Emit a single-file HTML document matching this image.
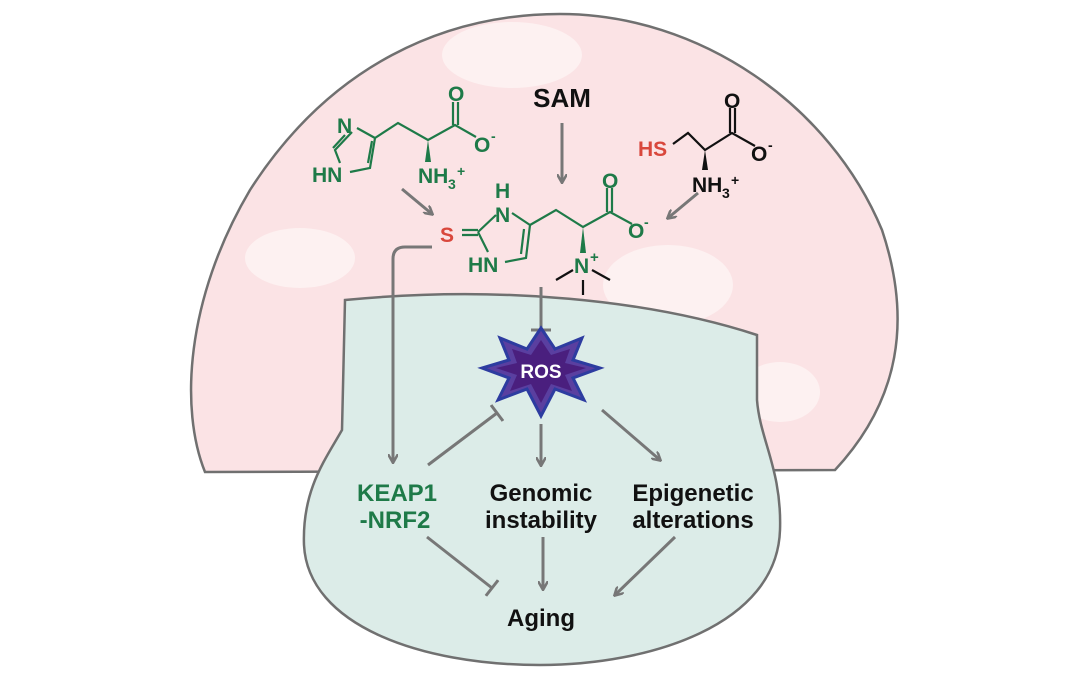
<!DOCTYPE html>
<html><head><meta charset="utf-8"><style>
body{margin:0;background:#fff}
svg{display:block}
text{font-family:"Liberation Sans",Arial,sans-serif;font-weight:bold}
</style></head><body>
<svg width="1076" height="695" viewBox="0 0 1076 695" xmlns="http://www.w3.org/2000/svg">
<defs>
<marker id="ar" markerWidth="10" markerHeight="10" refX="8" refY="5" orient="auto" markerUnits="userSpaceOnUse"><path d="M0,0 L9,5 L0,10" fill="none" stroke="#777" stroke-width="2.5"/></marker>
<marker id="tb" markerWidth="4" markerHeight="20" refX="2" refY="10" orient="auto" markerUnits="userSpaceOnUse"><path d="M2,0 L2,20" stroke="#777" stroke-width="3"/></marker>
</defs>
<!-- cap -->
<path d="M205 472 C180 410 185 300 250 190 C330 65 445 14 560 14 C700 14 830 105 882 230 C912 320 900 400 835 470 Z" fill="#fbe3e5" stroke="#707070" stroke-width="2.5"/>
<ellipse cx="512" cy="55" rx="70" ry="33" fill="#fdf1f1"/>
<ellipse cx="300" cy="258" rx="55" ry="30" fill="#fdf1f1"/>
<ellipse cx="668" cy="285" rx="65" ry="40" fill="#fdf1f1"/>
<ellipse cx="780" cy="392" rx="40" ry="30" fill="#fdf1f1"/>
<!-- stem -->
<path d="M345 300 C500 285 650 300 757 335 L757 400 C760 440 782 470 780 530 C777 625 650 665 540 665 C420 665 308 625 304 545 C302 490 325 460 342 430 Z" fill="#dcece8" stroke="#707070" stroke-width="2.5"/>

<!-- SAM -->
<text x="562" y="107" font-size="26" text-anchor="middle" fill="#111">SAM</text>
<line x1="562" y1="123" x2="562" y2="182" stroke="#777" stroke-width="3" marker-end="url(#ar)"/>

<!-- histidine -->
<g stroke="#1e7a48" stroke-width="2.2" fill="none">
<path d="M352 132 L335 150 L340 163"/><path d="M345 135 L333 148"/>
<path d="M350 172 L370 168 L375 138 L357 128"/><path d="M368 163 L372 141"/>
<path d="M375 138 L398 123 L428 140 L455 125 L476 137"/>
<path d="M453 125 L453 102 M458 125 L458 102"/>
</g>
<path d="M428 140 L425 162 L431 162 Z" fill="#1e7a48"/>
<g fill="#1e7a48" font-size="21">
<text x="337" y="133">N</text>
<text x="312" y="182">HN</text>
<text x="448" y="101">O</text>
<text x="474" y="152">O</text><text x="491" y="141" font-size="14">-</text>
<text x="418" y="183">NH</text><text x="448" y="189" font-size="14">3</text><text x="457" y="176" font-size="14">+</text>
</g>
<line x1="402" y1="189" x2="432" y2="214" stroke="#777" stroke-width="3" marker-end="url(#ar)"/>

<!-- ergothioneine -->
<g stroke="#1e7a48" stroke-width="2.2" fill="none">
<path d="M462 235 L478 235 M462 230 L478 230"/>
<path d="M478 232 L496 215 M478 232 L488 252"/>
<path d="M512 213 L530 225 L526 258 L505 262"/><path d="M524 229 L521 254"/>
<path d="M530 225 L556 210 L583 227 L610 212 L632 224"/>
<path d="M607 212 L607 188 M612 212 L612 188"/>
<path d="M573 270 L556 280 M583 280 L583 295 M592 270 L610 280" stroke="#111"/>
</g>
<path d="M583 227 L580 253 L586 253 Z" fill="#1e7a48"/>
<g fill="#1e7a48" font-size="21">
<text x="440" y="242" fill="#d9473c">S</text>
<text x="495" y="198">H</text>
<text x="495" y="222">N</text>
<text x="468" y="272">HN</text>
<text x="602" y="188">O</text>
<text x="628" y="238">O</text><text x="644" y="227" font-size="14">-</text>
<text x="574" y="273">N</text><text x="590" y="262" font-size="15">+</text>
</g>
<line x1="698" y1="193" x2="668" y2="218" stroke="#777" stroke-width="3" marker-end="url(#ar)"/>

<!-- cysteine -->
<g stroke="#111" stroke-width="2.2" fill="none">
<path d="M673 144 L688 133 L705 150 L732 133 L755 146"/>
<path d="M730 133 L730 108 M735 133 L735 108"/>
</g>
<path d="M705 150 L702 170 L708 170 Z" fill="#111"/>
<g font-size="21" fill="#111">
<text x="638" y="156" fill="#d9473c">HS</text>
<text x="724" y="108">O</text>
<text x="751" y="161">O</text><text x="768" y="150" font-size="14">-</text>
<text x="692" y="192">NH</text><text x="722" y="198" font-size="14">3</text><text x="731" y="185" font-size="14">+</text>
</g>

<!-- connectors -->
<path d="M432 247 L405 247 Q393 247 393 259 L393 462" fill="none" stroke="#777" stroke-width="3" marker-end="url(#ar)"/>
<line x1="541" y1="287" x2="541" y2="330" stroke="#777" stroke-width="3" marker-end="url(#tb)"/>

<!-- ROS star -->
<polygon points="541,328 555,349 582,338 573,360 600,368 573,378 584,400 555,389 541,416 527,389 498,400 509,378 482,368 509,360 500,338 527,349" fill="#5a3fa0" stroke="#2d3ca0" stroke-width="3"/>
<polygon points="541,340 551,355 570,349 565,363 586,368 565,375 572,391 551,384 541,403 531,384 510,391 517,375 496,368 517,363 512,349 531,355" fill="#4a1f7e"/>
<text x="541" y="378" font-size="19" text-anchor="middle" fill="#fff">ROS</text>

<line x1="541" y1="424" x2="541" y2="465" stroke="#777" stroke-width="3" marker-end="url(#ar)"/>
<line x1="602" y1="410" x2="660" y2="460" stroke="#777" stroke-width="3" marker-end="url(#ar)"/>
<line x1="428" y1="465" x2="497" y2="413" stroke="#777" stroke-width="3" marker-end="url(#tb)"/>
<line x1="427" y1="537" x2="492" y2="588" stroke="#777" stroke-width="3" marker-end="url(#tb)"/>
<line x1="543" y1="537" x2="543" y2="589" stroke="#777" stroke-width="3" marker-end="url(#ar)"/>
<line x1="675" y1="537" x2="615" y2="595" stroke="#777" stroke-width="3" marker-end="url(#ar)"/>

<g font-size="24" text-anchor="middle">
<text x="397" y="501" fill="#1e7a48">KEAP1</text>
<text x="395" y="528" fill="#1e7a48">-NRF2</text>
<text x="541" y="501" fill="#111">Genomic</text>
<text x="541" y="528" fill="#111">instability</text>
<text x="693" y="501" fill="#111">Epigenetic</text>
<text x="693" y="528" fill="#111">alterations</text>
<text x="541" y="626" fill="#111">Aging</text>
</g>
</svg>
</body></html>
